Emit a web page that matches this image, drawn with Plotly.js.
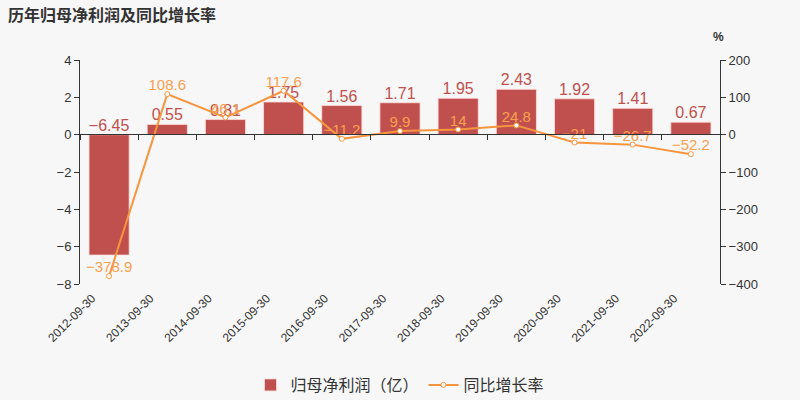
<!DOCTYPE html>
<html><head><meta charset="utf-8">
<script src="https://cdn.plot.ly/plotly-3.0.1.min.js"></script>
<style>html,body{margin:0;padding:0;background:#f7f7f7;}#chart{width:800px;height:400px;}</style>
</head><body><div id="chart"></div>
<script>
const categories = ["2012-09-30","2013-09-30","2014-09-30","2015-09-30","2016-09-30","2017-09-30","2018-09-30","2019-09-30","2020-09-30","2021-09-30","2022-09-30"];
const profit = [-6.45, 0.55, 0.81, 1.75, 1.56, 1.71, 1.95, 2.43, 1.92, 1.41, 0.67];
const growth = [-378.9, 108.6, 46.1, 117.6, -11.2, 9.9, 14, 24.8, -21, -26.7, -52.2];
const leftTicks = [-8, -6, -4, -2, 0, 2, 4];
const rightTicks = [-400, -300, -200, -100, 0, 100, 200];

const fmt = v => (v < 0 ? "\u2212" + Math.abs(v) : String(v));
const FONT = "Liberation Sans, Noto Sans CJK SC, sans-serif";
const BAR = "#c0504d", LINE = "#f7953f";

const traces = [
  {type:"bar", name:"归母净利润（亿）", x:categories, y:profit, xaxis:"x", yaxis:"y",
   marker:{color:BAR, line:{color:"rgba(255,220,220,0.8)", width:1}}, hoverinfo:"skip"},
  {type:"scatter", mode:"text", x:categories, y:profit.map(v=>Math.max(v,0)), xaxis:"x", yaxis:"y",
   text:profit.map(fmt), textposition:"top center", textfont:{color:BAR, size:16, family:FONT},
   showlegend:false, hoverinfo:"skip", cliponaxis:false},
  {type:"scatter", mode:"lines+markers", name:"同比增长率", x:categories, y:growth, xaxis:"x2", yaxis:"y2",
   line:{color:LINE, width:2}, marker:{symbol:"circle", size:5, color:"#ffffff", line:{color:LINE, width:1}},
   hoverinfo:"skip", cliponaxis:false},
  {type:"scatter", mode:"text", x:categories, y:growth, xaxis:"x2", yaxis:"y2",
   text:growth.map(fmt), textposition:"top center", textfont:{color:"#f9a04f", size:15, family:FONT},
   showlegend:false, hoverinfo:"skip", cliponaxis:false}
];

const layout = {
  width:800, height:400,
  paper_bgcolor:"#f7f7f7", plot_bgcolor:"#f7f7f7",
  font:{family:FONT, color:"#333"},
  margin:{l:80, r:80, t:60, b:116, autoexpand:false},
  bargap:0.31,
  showlegend:true,
  title:{text:"<b>历年归母净利润及同比增长率</b>", font:{size:16, color:"#333", family:"Noto Sans CJK SC, sans-serif"},
         xref:"container", yref:"container", x:0.01, xanchor:"left", y:0.9625, yanchor:"middle"},
  xaxis:{type:"category", categoryarray:categories, range:[-0.5,10.5], showline:false, ticks:"",
         tickangle:-45, ticklabelshift:-17, ticklabelstandoff:4, tickfont:{size:12, color:"#333"},
         showgrid:false, zeroline:false, automargin:false},
  xaxis2:{type:"category", categoryarray:categories, range:[-0.5,10.5], overlaying:"x", anchor:"free",
          position:(284-134)/224, side:"bottom", showline:true, linecolor:"#333", linewidth:1,
          ticks:"outside", ticklen:5, tickcolor:"#333", tickson:"boundaries", showticklabels:false,
          showgrid:false, zeroline:false, automargin:false},
  yaxis:{range:[-8,4], tickvals:leftTicks, ticktext:leftTicks.map(fmt), showline:true, linecolor:"#333",
         ticks:"outside", ticklen:5, tickcolor:"#333", showgrid:false, zeroline:false,
         tickfont:{size:13, color:"#333"}, automargin:false},
  yaxis2:{range:[-400,200], tickvals:rightTicks, ticktext:rightTicks.map(fmt), overlaying:"y", side:"right",
          anchor:"x2", showline:true, linecolor:"#333", ticks:"outside", ticklen:5, tickcolor:"#333",
          showgrid:false, zeroline:false, tickfont:{size:13, color:"#333"}, automargin:false},
  legend:{orientation:"h", x:0.5, xanchor:"center", yref:"container", y:(400-385)/400, yanchor:"middle",
          font:{size:16, color:"#333", family:"Noto Sans CJK SC, sans-serif"}, bgcolor:"rgba(0,0,0,0)"},
  annotations:[{text:"<b>%</b>", xref:"paper", yref:"paper", x:(718-80)/640, y:(284-37)/224,
                showarrow:false, font:{size:12, color:"#333"}, xanchor:"center", yanchor:"middle"}]
};

Plotly.newPlot("chart", traces, layout, {staticPlot:true, displayModeBar:false});
</script></body></html>
